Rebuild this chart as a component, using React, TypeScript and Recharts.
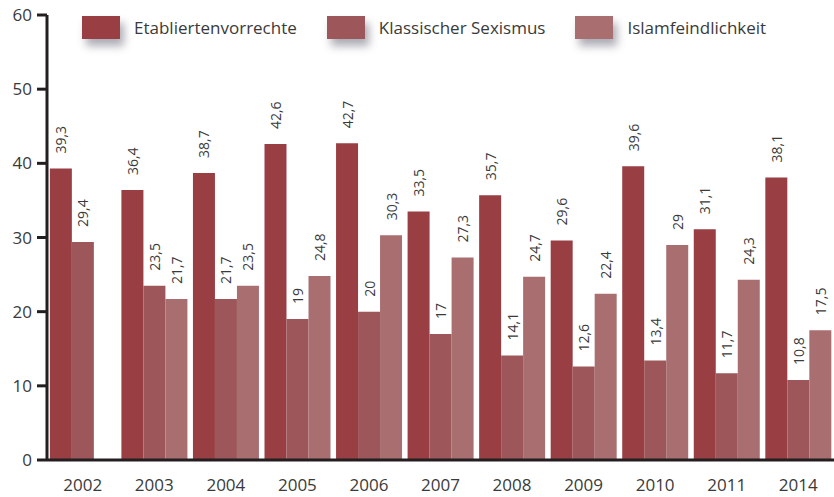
import { BarChart, Bar, XAxis, YAxis, Legend, LabelList } from "recharts";

const YEARS = ["2002", "2003", "2004", "2005", "2006", "2007", "2008", "2009", "2010", "2011", "2014"];
const ETABLIERTEN = [39.3, 36.4, 38.7, 42.6, 42.7, 33.5, 35.7, 29.6, 39.6, 31.1, 38.1];
const SEXISMUS = [29.4, 23.5, 21.7, 19, 20, 17, 14.1, 12.6, 13.4, 11.7, 10.8];
const ISLAM: (number | null)[] = [null, 21.7, 23.5, 24.8, 30.3, 27.3, 24.7, 22.4, 29, 24.3, 17.5];
const Y_TICKS = [0, 10, 20, 30, 40, 50, 60];

const SERIES = [
  { key: "etab", name: "Etabliertenvorrechte", color: "#993f44" },
  { key: "sex", name: "Klassischer Sexismus", color: "#9d5659" },
  { key: "islam", name: "Islamfeindlichkeit", color: "#a86e70" },
];

const FONT = "'Open Sans', 'Noto Sans', sans-serif";
const AXIS = "#231f20";
const TEXT = "#3a3a3a";

const data = YEARS.map((year, i) => ({
  year,
  etab: ETABLIERTEN[i],
  sex: SEXISMUS[i],
  islam: ISLAM[i],
}));

const fmt = (v: number) => String(v).replace(".", ",");

const BarLabel = (props: any) => {
  const { x, y, width, value } = props;
  if (value == null) return null;
  const cx = x + width / 2;
  const ty = y - 15;
  return (
    <text
      x={cx}
      y={ty}
      transform={`rotate(-90 ${cx} ${ty})`}
      dominantBaseline="central"
      textAnchor="start"
      fontSize={14}
      fontFamily={FONT}
      fill={TEXT}
    >
      {fmt(value)}
    </text>
  );
};

const renderLegend = () => (
  <div style={{ display: "flex", marginLeft: 82, paddingTop: 16, fontFamily: FONT }}>
    {SERIES.map((s) => (
      <div key={s.key} style={{ display: "flex", alignItems: "center", marginRight: 30 }}>
        <div
          style={{
            width: 38,
            height: 23,
            background: s.color,
            boxShadow: "4px 7px 9px rgba(70,70,90,0.45)",
          }}
        />
        <span style={{ marginLeft: 14, fontSize: 17, color: TEXT, whiteSpace: "nowrap" }}>{s.name}</span>
      </div>
    ))}
  </div>
);

export default function App() {
  return (
    <div style={{ position: "fixed", top: 0, left: 0, width: 834, height: 497, background: "#fff" }}>
      <BarChart
        width={834}
        height={497}
        data={data}
        margin={{ top: 15, right: 0, bottom: 0, left: 0 }}
        barCategoryGap="4%"
        barGap={0}
      >
        <XAxis
          dataKey="year"
          axisLine={{ stroke: AXIS, strokeWidth: 3 }}
          tickLine={false}
          tickMargin={13}
          height={37}
          tick={{ fontSize: 17, fill: TEXT, fontFamily: FONT }}
        />
        <YAxis
          domain={[0, 60]}
          ticks={Y_TICKS}
          width={47}
          axisLine={{ stroke: AXIS, strokeWidth: 3 }}
          tickLine={{ stroke: AXIS, strokeWidth: 3 }}
          tickSize={10}
          tickMargin={5}
          tick={{ fontSize: 17, fill: TEXT, fontFamily: FONT }}
        />
        <Legend
          content={renderLegend}
          layout="horizontal"
          verticalAlign="middle"
          align="center"
          wrapperStyle={{ top: 0, left: 0, width: 834 }}
        />
        {SERIES.map((s) => (
          <Bar key={s.key} dataKey={s.key} name={s.name} fill={s.color} isAnimationActive={false}>
            <LabelList dataKey={s.key} content={BarLabel} />
          </Bar>
        ))}
      </BarChart>
    </div>
  );
}
